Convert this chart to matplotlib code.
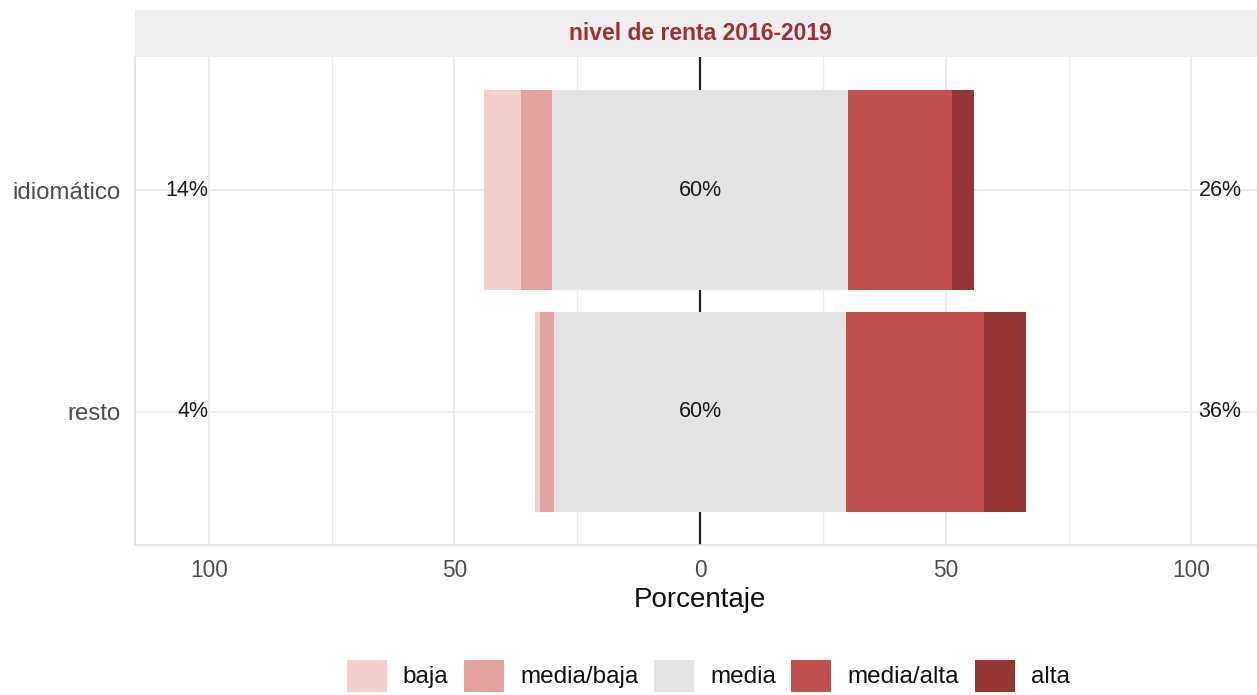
import numpy as np
import matplotlib.pyplot as plt
from matplotlib.patches import Patch

plt.rcParams['font.family'] = ['Liberation Sans', 'DejaVu Sans']

categories = ['idiomático', 'resto']
baja = [7.5, 1.0]
media_baja = [6.3, 2.9]
media = [60.2, 59.5]
media_alta = [21.1, 28.1]
alta = [4.5, 8.4]
low_labels = ['14%', '4%']
mid_labels = ['60%', '60%']
high_labels = ['26%', '36%']
levels = ['baja', 'media/baja', 'media', 'media/alta', 'alta']
colors = ['#f2cfcd', '#e5a3a0', '#e3e3e3', '#c0504d', '#943634']
ticks = [-100, -50, 0, 50, 100]
tick_labels = ['100', '50', '0', '50', '100']

fig = plt.figure(figsize=(12.57, 6.95), dpi=100)
ax = fig.add_axes([0.1074, 0.2158, 0.899, 0.7022])

y = np.array([1, 0])
h = 0.9
media = np.array(media)
left_mid = -media / 2
ax.barh(y, media, left=left_mid, height=h, color=colors[2], zorder=3)
ax.barh(y, media_baja, left=left_mid - np.array(media_baja), height=h, color=colors[1], zorder=3)
ax.barh(y, baja, left=left_mid - np.array(media_baja) - np.array(baja), height=h, color=colors[0], zorder=3)
ax.barh(y, media_alta, left=media / 2, height=h, color=colors[3], zorder=3)
ax.barh(y, alta, left=media / 2 + np.array(media_alta), height=h, color=colors[4], zorder=3)

ax.axvline(0, color='#222222', lw=1.6, zorder=2)

for i in range(len(categories)):
    ax.text(-100, y[i], low_labels[i], ha='right', va='center', fontsize=15.5, color='#1a1a1a', zorder=4)
    ax.text(0, y[i], mid_labels[i], ha='center', va='center', fontsize=15.5, color='#1a1a1a', zorder=4)
    ax.text(101.5, y[i], high_labels[i], ha='left', va='center', fontsize=15.5, color='#1a1a1a', zorder=4)

ax.set_xlim(-115, 115)
ax.set_ylim(-0.6, 1.6)
ax.set_xticks(ticks)
ax.set_xticklabels(tick_labels)
ax.set_xticks([-75, -25, 25, 75], minor=True)
ax.set_yticks(y)
ax.set_yticklabels(categories)
ax.tick_params(axis='both', which='both', length=0, labelcolor='#4d4d4d')
ax.tick_params(axis='x', labelsize=16.3, pad=10)
ax.tick_params(axis='y', labelsize=17.3, pad=10.5)
ax.grid(True, which='major', color='#ebebeb', lw=1.3, zorder=0)
ax.grid(True, which='minor', axis='x', color='#ebebeb', lw=1.0, zorder=0)
ax.set_axisbelow(True)
for s in ax.spines.values():
    s.set_color('#dedede')
    s.set_linewidth(1.2)
ax.spines['top'].set_visible(False)
ax.set_xlabel('Porcentaje', fontsize=20, color='#111111', labelpad=4)

# facet strip
sax = fig.add_axes([0.1074, 0.918, 0.899, 0.0676])
sax.set_facecolor('#efefef')
sax.set_xticks([])
sax.set_yticks([])
for s in sax.spines.values():
    s.set_visible(False)
sax.text(0.5, 0.5, 'nivel de renta 2016-2019', ha='center', va='center', fontsize=16.5,
         fontweight='bold', color='#a0302f', transform=sax.transAxes)

handles = [Patch(facecolor=c, edgecolor='none') for c in colors]
fig.legend(handles, levels, loc='center', bbox_to_anchor=(0.5633, 0.028), ncol=5, frameon=False,
           fontsize=17.5, handlelength=1.65, handleheight=1.65, columnspacing=0.64, handletextpad=0.66,
           labelcolor='#111111', borderpad=0)

fig.savefig('out.png', dpi=100)
